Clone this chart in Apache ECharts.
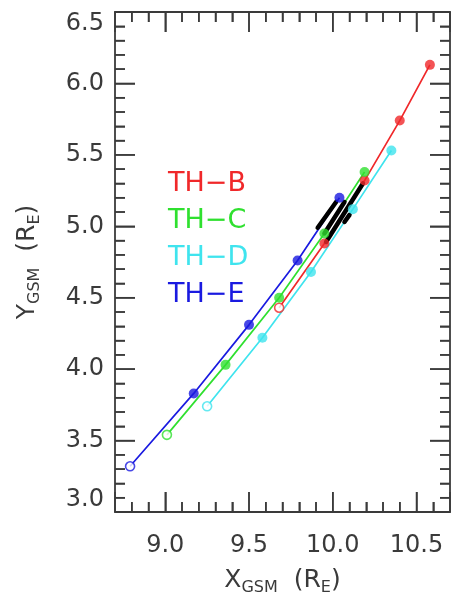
<!DOCTYPE html>
<html>
<head>
<meta charset="utf-8">
<script src="https://cdn.jsdelivr.net/npm/echarts@6/dist/echarts.min.js"></script>
<style>
  html, body { margin: 0; padding: 0; background: #ffffff; }
  #chart { width: 454px; height: 601px; }
</style>
</head>
<body>
<div id="chart"></div>
<script>
// Probe names and their plotting colours
const probes = ['TH−B', 'TH−C', 'TH−D', 'TH−E'];
const colors = ['#f0282a', '#2fe02f', '#3fe4ee', '#1a1ae0'];

// Orbit tracks [X_GSM, Y_GSM] in Earth radii; the first point marks the start (open circle)
const trackB = [[9.68, 4.43], [9.95, 4.88], [10.19, 5.32], [10.40, 5.74], [10.58, 6.13]];
const trackC = [[9.01, 3.54], [9.36, 4.03], [9.68, 4.50], [9.95, 4.95], [10.19, 5.38]];
const trackD = [[9.25, 3.74], [9.58, 4.22], [9.87, 4.68], [10.12, 5.12], [10.35, 5.53]];
const trackE = [[8.79, 3.32], [9.17, 3.83], [9.50, 4.31], [9.79, 4.76], [10.04, 5.20]];

// Highlighted interval along each track (drawn in black)
const spanB = [[9.96, 4.89], [10.18, 5.30]];
const spanC = [[9.95, 4.95], [10.07, 5.17]];
const spanD = [[10.07, 5.03], [10.10, 5.08]];
const spanE = [[9.91, 4.99], [10.02, 5.17]];

// Axis ranges and tick spacing
const xRange = [8.7, 10.7];
const yRange = [3.0, 6.5];
const majorStep = 0.5;
const minorStep = 0.1;

const tracks = [trackB, trackC, trackD, trackE];
const spans = [spanB, spanC, spanD, spanE];

const FONT = 'DejaVu Sans';
const INK = '#3a3a3a';
const MAJOR_LEN = 20;
const MINOR_LEN = 10;

// Tick values for the box frame: [value, isMajor]
function tickValues(range) {
  const out = [];
  const n = Math.round((range[1] - range[0]) / minorStep);
  for (let k = 0; k <= n; k++) {
    const v = +(range[0] + k * minorStep).toFixed(2);
    if (v <= range[0] + 1e-9 || v >= range[1] - 1e-9) continue;
    const r = v / majorStep;
    out.push([v, Math.abs(r - Math.round(r)) < 1e-6 ? 1 : 0]);
  }
  return out;
}
const xTicks = tickValues(xRange);
const yTicks = tickValues(yRange);

// Frame axes: box line, labels and inward ticks
function frameAxis(extra) {
  return Object.assign({
    type: 'value',
    axisLine: { show: true, onZero: false, lineStyle: { color: INK, width: 1.8 } },
    axisTick: { show: true, inside: true, length: MAJOR_LEN, lineStyle: { color: INK, width: 1.5 } },
    minorTick: { show: true, splitNumber: 5, length: MINOR_LEN, lineStyle: { color: INK, width: 1.5 } },
    splitLine: { show: false }
  }, extra);
}

function nameRich() {
  return {
    m: { fontFamily: FONT, fontSize: 25, color: INK },
    s: { fontFamily: FONT, fontSize: 16, color: INK, padding: [16, 0, 0, 0] }
  };
}

function tickLabels(extra) {
  return Object.assign({
    fontFamily: FONT,
    fontSize: 24,
    color: INK,
    formatter: v => v.toFixed(1)
  }, extra);
}

const series = [];

// inward ticks on all four sides, positioned through the axis scales, drawn on top
const tickData = xTicks.map(t => [t[0], yRange[0], t[1], 0])
  .concat(yTicks.map(t => [xRange[0], t[0], t[1], 1]));
series.push({
  type: 'custom',
  z: 10,
  silent: true,
  clip: false,
  data: tickData,
  renderItem: function (params, api) {
    const horizontalAxis = api.value(3) === 0;
    const len = api.value(2) ? MAJOR_LEN : MINOR_LEN;
    const style = { stroke: INK, lineWidth: 1.5 };
    if (horizontalAxis) {
      const v = api.value(0);
      const b = api.coord([v, yRange[0]]);
      const t = api.coord([v, yRange[1]]);
      return { type: 'group', children: [
        { type: 'line', shape: { x1: b[0], y1: b[1], x2: b[0], y2: b[1] - len }, style: style },
        { type: 'line', shape: { x1: t[0], y1: t[1], x2: t[0], y2: t[1] + len }, style: style }
      ] };
    }
    const v = api.value(1);
    const l = api.coord([xRange[0], v]);
    const r = api.coord([xRange[1], v]);
    return { type: 'group', children: [
      { type: 'line', shape: { x1: l[0], y1: l[1], x2: l[0] + len, y2: l[1] }, style: style },
      { type: 'line', shape: { x1: r[0], y1: r[1], x2: r[0] - len, y2: r[1] }, style: style }
    ] };
  }
});

// coloured track lines
tracks.forEach((t, i) => {
  series.push({
    name: probes[i],
    type: 'line',
    data: t,
    symbol: 'none',
    z: 2,
    lineStyle: { color: colors[i], width: 1.7 },
    itemStyle: { color: colors[i] },
    silent: true
  });
});
// black highlighted intervals
spans.forEach(s => {
  series.push({
    type: 'line',
    data: s,
    symbol: 'none',
    z: 3,
    lineStyle: { color: '#000000', width: 4.5, cap: 'round' },
    silent: true
  });
});
// position markers: open circle at start, filled dots after
tracks.forEach((t, i) => {
  series.push({
    type: 'scatter',
    z: 4,
    data: t.map((p, k) => k === 0
      ? { value: p, symbolSize: 9,
          itemStyle: { color: '#ffffff', borderColor: colors[i], borderWidth: 1.6 } }
      : { value: p, symbolSize: 10, itemStyle: { color: colors[i] } }),
    silent: true
  });
});

const chart = echarts.init(document.getElementById('chart'));
chart.setOption({
  backgroundColor: '#ffffff',
  animation: false,
  grid: { left: 115, right: 4, top: 12, bottom: 89 },
  legend: {
    orient: 'vertical',
    left: 158,
    top: 165,
    itemWidth: 0,
    itemHeight: 28,
    itemGap: 9,
    selectedMode: false,
    data: probes.map((p, i) => ({
      name: p,
      icon: 'none',
      textStyle: { color: colors[i], fontFamily: FONT, fontSize: 27, lineHeight: 28 }
    }))
  },
  xAxis: [
    frameAxis({
      position: 'bottom',
      min: xRange[0], max: xRange[1], splitNumber: 4,
      name: '{m|X}{s|GSM}{m|  (R}{s|E}{m|)}',
      nameLocation: 'middle',
      nameGap: 52,
      nameTextStyle: { rich: nameRich() },
      axisLabel: tickLabels({ margin: 22, showMinLabel: false, showMaxLabel: false })
    }),
    frameAxis({
      position: 'top',
      min: xRange[0], max: xRange[1], splitNumber: 4,
      axisLabel: { show: false }
    })
  ],
  yAxis: [
    frameAxis({
      position: 'left',
      min: yRange[0], max: yRange[1], interval: majorStep,
      name: '{m|Y}{s|GSM}{m|  (R}{s|E}{m|)}',
      nameLocation: 'middle',
      nameRotate: 90,
      nameGap: 72,
      nameTextStyle: { rich: nameRich() },
      axisLabel: tickLabels({
        margin: 11,
        verticalAlignMinLabel: 'bottom',
        verticalAlignMaxLabel: 'top'
      })
    }),
    frameAxis({
      position: 'right',
      min: yRange[0], max: yRange[1], interval: majorStep,
      axisLabel: { show: false }
    })
  ],
  series: series
});
</script>
</body>
</html>
